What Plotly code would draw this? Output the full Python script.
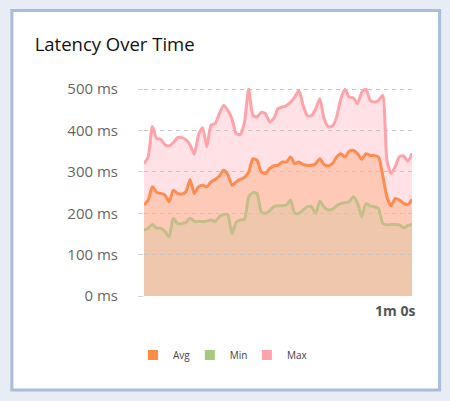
import plotly.graph_objects as go

# seconds since start
seconds = list(range(65))

avg_ms = [220, 232, 264, 251, 248, 244, 228, 256, 248, 246, 252, 282, 248, 264, 268, 264,
          276, 282, 290, 304, 294, 268, 276, 282, 287, 300, 332, 328, 300, 296, 308, 315,
          316, 324, 324, 336, 320, 324, 318, 316, 316, 320, 332, 318, 315, 320, 336, 344,
          336, 350, 352, 344, 331, 344, 340, 340, 336, 292, 240, 218, 236, 232, 224, 221, 234]

min_ms = [159, 164, 173, 164, 164, 156, 143, 188, 175, 175, 178, 188, 181, 180, 180, 181,
          184, 180, 192, 197, 197, 150, 178, 184, 186, 240, 250, 248, 204, 200, 206, 216,
          218, 218, 220, 232, 200, 200, 208, 216, 216, 200, 230, 215, 208, 210, 218, 224,
          226, 228, 240, 224, 192, 224, 218, 216, 212, 176, 172, 173, 173, 172, 165, 170, 173]

max_ms = [320, 337, 410, 381, 379, 366, 363, 371, 383, 383, 378, 365, 343, 389, 407, 361,
          413, 417, 441, 461, 449, 429, 393, 390, 421, 501, 437, 433, 444, 441, 421, 429,
          453, 457, 460, 469, 481, 497, 461, 436, 436, 453, 477, 429, 409, 411, 433, 477,
          500, 481, 479, 465, 493, 501, 473, 469, 473, 485, 330, 296, 313, 337, 339, 326, 345]

y_ticks = [0, 100, 200, 300, 400, 500]
y_labels = ["0 ms", "100 ms", "200 ms", "300 ms", "400 ms", "500 ms"]

series = [
    ("Max", max_ms, "#ffa3aa", "#ffe1e6", "#ffa3aa"),
    ("Avg", avg_ms, "#ff8c4e", "#ffc9b7", "#ff8a43"),
    ("Min", min_ms, "#c3bf88", "#efc7ac", "#a8c97f"),
]
spline = dict(shape="spline", smoothing=0.6)

fig = go.Figure()

# filled areas on the bottom subplot (biggest first)
for name, vals, line_col, fill_col, _ in series:
    fig.add_trace(go.Scatter(
        x=seconds, y=vals, mode="lines", showlegend=False, hoverinfo="skip",
        line=dict(color=fill_col, width=0, **spline),
        fill="tozeroy", fillcolor=fill_col, xaxis="x", yaxis="y"))

# lines on a second subplot stacked on top, so its dashed grid sits over the fills
for name, vals, line_col, fill_col, _ in series:
    fig.add_trace(go.Scatter(
        x=seconds, y=vals, mode="lines", name=name, showlegend=False,
        line=dict(color=line_col, width=3, **spline), xaxis="x2", yaxis="y2"))

# one small legend per swatch so they can be spaced like the original
legend_pos = {"Avg": ("legend", -0.041), "Min": ("legend2", 0.171), "Max": ("legend3", 0.384)}
for name in ["Avg", "Min", "Max"]:
    sw = [s[4] for s in series if s[0] == name][0]
    fig.add_trace(go.Scatter(
        x=[None], y=[None], mode="markers", name=name, legend=legend_pos[name][0],
        marker=dict(symbol="square", size=10, color=sw), xaxis="x2", yaxis="y2"))

# card background
fig.add_shape(type="rect", xref="paper", yref="paper", layer="below",
              x0=-0.493, x1=1.103, y0=-0.452, y1=1.373,
              fillcolor="white", line=dict(color="#a9bcda", width=3))

leg_style = dict(orientation="h", xanchor="left", y=-0.284, yanchor="middle",
                 font=dict(size=10, color="#444"), bgcolor="rgba(0,0,0,0)",
                 itemwidth=30)

hidden = dict(visible=False, showgrid=False, zeroline=False)

fig.update_layout(
    width=450, height=401,
    margin=dict(l=144, r=38, t=88, b=105),
    paper_bgcolor="#e8edf5",
    plot_bgcolor="rgba(0,0,0,0)",
    font=dict(family="Open Sans, sans-serif", color="#555"),
    title=dict(text="Latency Over Time", x=0.077, xanchor="left",
               y=1 - 45 / 401, yanchor="middle",
               font=dict(size=18.5, color="#111")),
    xaxis=dict(range=[0, 64], domain=[0, 1], anchor="y", **hidden),
    yaxis=dict(range=[0, 503], domain=[0, 1], anchor="x", **hidden),
    xaxis2=dict(range=[0, 64], domain=[0, 1], anchor="y2",
                showgrid=False, zeroline=False, showline=False,
                tickvals=[60], ticktext=["<b>1m 0s</b>"],
                tickfont=dict(size=14, color="#555"), ticks="",
                ticklabelstandoff=5),
    yaxis2=dict(range=[0, 503], domain=[0, 1], anchor="x2",
                tickvals=y_ticks, ticktext=y_labels,
                showgrid=True, gridcolor="#c6c6c6", griddash="4px,4px",
                gridwidth=1, zeroline=False, showline=False,
                ticks="outside", ticklen=5, tickcolor="#d6d6d6",
                tickfont=dict(size=15, color="#666"), ticklabelstandoff=17),
    legend=dict(x=legend_pos["Avg"][1], **leg_style),
    legend2=dict(x=legend_pos["Min"][1], **leg_style),
    legend3=dict(x=legend_pos["Max"][1], **leg_style),
    showlegend=True,
)

fig.write_html("out.html", config={"displayModeBar": False},
               post_script="document.body.style.margin='0';")
